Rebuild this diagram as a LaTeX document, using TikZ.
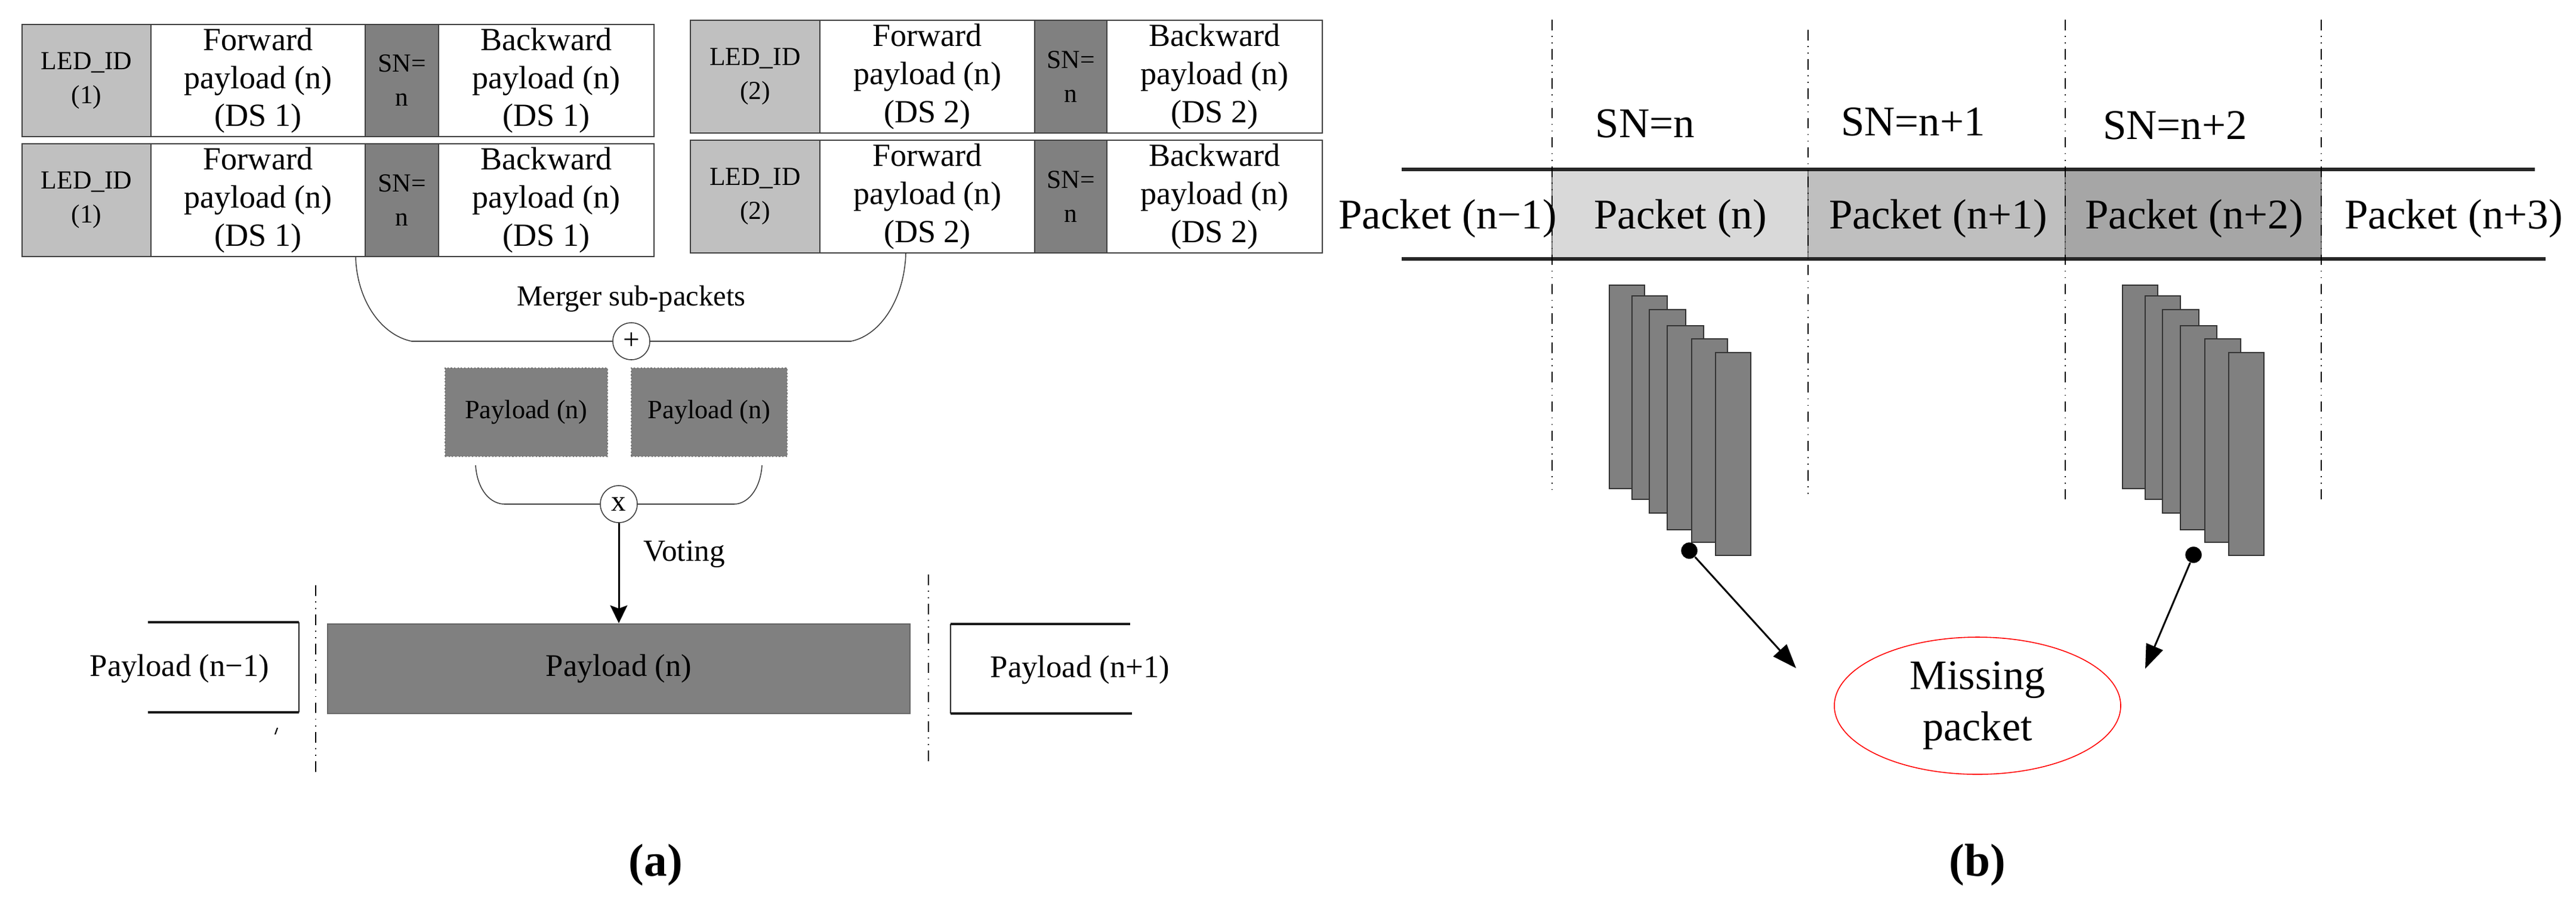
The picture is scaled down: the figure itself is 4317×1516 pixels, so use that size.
\documentclass[tikz,border=0pt]{standalone}
\usepackage{fontspec}
\setmainfont{Liberation Serif}
\usetikzlibrary{arrows.meta,shapes.geometric}
\definecolor{ledgray}{HTML}{C0C0C0}
\definecolor{sngray}{HTML}{808080}
\definecolor{edge}{HTML}{404040}
\definecolor{pkA}{HTML}{D9D9D9}
\definecolor{pkB}{HTML}{BFBFBF}
\definecolor{pkC}{HTML}{A6A6A6}
\tikzset{
  cellbase/.style={draw=edge, line width=0.7pt, inner sep=0pt, align=center},
  txtcell/.style={cellbase, fill=white, font=\fontsize{15.4}{18.2}\selectfont},
  ledcell/.style={cellbase, fill=ledgray, font=\fontsize{12.4}{16.2}\selectfont},
  sncell/.style={cellbase, fill=sngray, font=\fontsize{12.4}{16.2}\selectfont},
  thinline/.style={draw=black!75, line width=0.45pt},
  opcircle/.style={circle, draw=black!75, line width=0.45pt, fill=white, minimum size=6.2mm, inner sep=0pt, font=\fontsize{14}{16}\selectfont},
  smallpay/.style={draw=black!55, densely dotted, line width=0.6pt, fill=sngray, inner sep=0pt, font=\fontsize{12.6}{15}\selectfont},
  bigpay/.style={draw=black!60, line width=0.8pt, fill=sngray, inner sep=0pt, font=\fontsize{15}{18}\selectfont},
  plainA/.style={font=\fontsize{15}{18}\selectfont, inner sep=0pt},
  sideline/.style={draw=black!90, line width=1.2pt},
  sidevert/.style={draw=black!90, line width=0.6pt},
  dashdot/.style={draw=black, line width=0.55pt, dash pattern=on 5pt off 2.7pt on 0.45pt off 2.7pt on 0.45pt off 2.7pt},
  pkcell/.style={draw=black!55, line width=0.4pt, inner sep=0pt, minimum height=15mm},
  pktext/.style={font=\fontsize{20.2}{24}\selectfont, inner sep=0pt, anchor=base},
  bandline/.style={draw=black!85, line width=1.6pt},
  stackrect/.style={draw=black!80, line width=0.5pt, fill=sngray},
  dotnode/.style={circle, fill=black, minimum size=7.8pt, inner sep=0pt},
  captext/.style={font=\fontsize{22}{26}\selectfont\bfseries, inner sep=0pt},
}
\begin{document}
\begin{tikzpicture}[x=0.1mm,y=-0.1mm]
\useasboundingbox (0,0) rectangle (4317,1516);

% ---------- Panel (a): sub-packets ----------
% block A row 1
\node[ledcell, minimum width=21.6mm, minimum height=18.8mm] (a1led) at (145,135) {LED\_ID\\(1)};
\node[txtcell, minimum width=35.9mm, minimum height=18.8mm] (a1fw) at (432.5,135) {Forward\\payload (n)\\(DS 1)};
\node[sncell, minimum width=12.3mm, minimum height=18.8mm] (a1sn) at (673.5,135) {SN=\\n};
\node[txtcell, minimum width=36.1mm, minimum height=18.8mm] (a1bw) at (915.5,135) {Backward\\payload (n)\\(DS 1)};
% block A row 2
\node[ledcell, minimum width=21.6mm, minimum height=18.9mm] (a2led) at (145,335.5) {LED\_ID\\(1)};
\node[txtcell, minimum width=35.9mm, minimum height=18.9mm] (a2fw) at (432.5,335.5) {Forward\\payload (n)\\(DS 1)};
\node[sncell, minimum width=12.3mm, minimum height=18.9mm] (a2sn) at (673.5,335.5) {SN=\\n};
\node[txtcell, minimum width=36.1mm, minimum height=18.9mm] (a2bw) at (915.5,335.5) {Backward\\payload (n)\\(DS 1)};
% block B row 1
\node[ledcell, minimum width=21.7mm, minimum height=18.9mm] (b1led) at (1265.5,128.5) {LED\_ID\\(2)};
\node[txtcell, minimum width=36.0mm, minimum height=18.9mm] (b1fw) at (1554,128.5) {Forward\\payload (n)\\(DS 2)};
\node[sncell, minimum width=12.1mm, minimum height=18.9mm] (b1sn) at (1794.5,128.5) {SN=\\n};
\node[txtcell, minimum width=36.1mm, minimum height=18.9mm] (b1bw) at (2035.5,128.5) {Backward\\payload (n)\\(DS 2)};
% block B row 2
\node[ledcell, minimum width=21.7mm, minimum height=18.9mm] (b2led) at (1265.5,329.5) {LED\_ID\\(2)};
\node[txtcell, minimum width=36.0mm, minimum height=18.9mm] (b2fw) at (1554,329.5) {Forward\\payload (n)\\(DS 2)};
\node[sncell, minimum width=12.1mm, minimum height=18.9mm] (b2sn) at (1794.5,329.5) {SN=\\n};
\node[txtcell, minimum width=36.1mm, minimum height=18.9mm] (b2bw) at (2035.5,329.5) {Backward\\payload (n)\\(DS 2)};

% merger
\node[opcircle] (plus) at (1058,572) {+};
\node[font=\fontsize{13.8}{16}\selectfont, inner sep=0pt, anchor=base] (merger) at (1058,512) {Merger sub-packets};
\coordinate (mL) at (596,430);
\coordinate (mR) at (1518,424);
\draw[thinline] (mL) .. controls (598,505) and (640,562) .. (690,572) -- (plus.west);
\draw[thinline] (plus.east) -- (1426,572) .. controls (1476,562) and (1516,500) .. (mR);

% two payloads
\node[smallpay, minimum width=27.2mm, minimum height=14.8mm] (payL) at (882,691) {Payload (n)};
\node[smallpay, minimum width=26.1mm, minimum height=14.8mm] (payR) at (1188.5,691) {Payload (n)};

% voting
\node[opcircle] (times) at (1037,845) {x};
\coordinate (vL) at (797,780);
\coordinate (vR) at (1277,780);
\draw[thinline] (vL) .. controls (800,822) and (822,845) .. (846,845) -- (times.west);
\draw[thinline] (times.east) -- (1230,845) .. controls (1252,845) and (1274,822) .. (vR);

\node[bigpay, minimum width=97.6mm, minimum height=15mm] (pn) at (1037,1121) {Payload (n)};
\draw[line width=0.85pt, -{Stealth[length=8.5pt,width=8.2pt,inset=1.5pt]}] (times.south) -- (pn.north);
\node[font=\fontsize{14.6}{17}\selectfont, inner sep=0pt, anchor=base west] (voting) at (1078,940) {Voting};

% side payloads
\node[plainA] (pnm1) at (301,1121) {Payload (n−1)};
\draw[sideline] (248,1043) -- (501,1043);
\draw[sidevert] (501,1043) -- (501,1194);
\draw[sideline] (248,1194) -- (501,1194);
\node[plainA] (pnp1) at (1810,1123) {Payload (n+1)};
\draw[sideline] (1593,1046) -- (1894,1046);
\draw[sidevert] (1593,1046) -- (1593,1196);
\draw[sideline] (1593,1196) -- (1897,1196);
\draw[line width=0.6pt] (461,1231) -- (465,1220);

\draw[dashdot] (529,981) -- (529,1295);
\draw[dashdot] (1556,963) -- (1556,1277);

\node[captext] (capa) at (1099,1450) {(a)};

% ---------- Panel (b) ----------
\node[pkcell, fill=pkA, minimum width=42.9mm] (pk0) at (2815.5,359) {};
\node[pkcell, fill=pkB, minimum width=43.1mm] (pk1) at (3245.5,359) {};
\node[pkcell, fill=pkC, minimum width=42.9mm] (pk2) at (3675.5,359) {};
\draw[bandline] (2349,284) -- (4248,284);
\draw[bandline] (2349,434) -- (4266,434);

\draw[dashdot] (2601,33) -- (2601,821);
\draw[dashdot] (3030,50) -- (3030,837);
\draw[dashdot] (3461,33) -- (3461,837);
\draw[dashdot] (3890,33) -- (3890,837);

\node[pktext] (tm1) at (2426,383) {Packet (n−1)};
\node[pktext] (t0) at (2816,383) {Packet (n)};
\node[pktext] (t1) at (3248,383) {Packet (n+1)};
\node[pktext] (t2) at (3677,383) {Packet (n+2)};
\node[pktext] (t3) at (4112,383) {Packet (n+3)};

\node[pktext] (sn0) at (2757,230) {SN=n};
\node[pktext] (sn1) at (3206,227) {SN=n+1};
\node[pktext] (sn2) at (3645,233) {SN=n+2};

% stacks
\foreach \dx in {0,860}{
  \draw[stackrect] (2697+\dx,478) rectangle (2756+\dx,819);
  \draw[stackrect] (2735+\dx,496) rectangle (2794+\dx,837);
  \draw[stackrect] (2764+\dx,519) rectangle (2825+\dx,860);
  \draw[stackrect] (2794+\dx,546) rectangle (2855+\dx,888);
  \draw[stackrect] (2835+\dx,568) rectangle (2895+\dx,909);
  \draw[stackrect] (2875+\dx,591) rectangle (2934+\dx,931);
}

\node[draw=red, line width=0.45pt, ellipse, minimum width=48mm, minimum height=23mm, inner sep=0pt, align=center, font=\fontsize{20}{24.5}\selectfont] (miss) at (3314,1183) {Missing\\packet};

\node[dotnode] (dotA) at (2831,923) {};
\node[dotnode] (dotB) at (3676,930) {};
\coordinate (endA) at (3010,1120);
\coordinate (endB) at (3595,1121);
\draw[line width=0.85pt, -{Triangle[length=11.5pt,width=8.5pt]}] (dotA) -- (endA);
\draw[line width=0.85pt, -{Triangle[length=11.5pt,width=8.5pt]}] (dotB) -- (endB);

\node[captext] (capb) at (3314,1450) {(b)};
\end{tikzpicture}
\end{document}
